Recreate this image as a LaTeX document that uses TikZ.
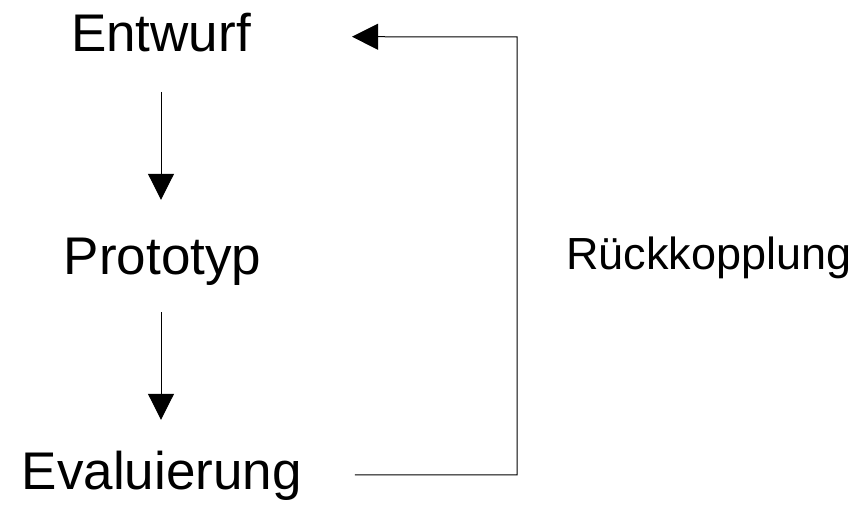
\documentclass[tikz,border=0pt]{standalone}
\usepackage{fontspec}
\setmainfont{Liberation Sans}
\usetikzlibrary{arrows.meta}

\begin{document}
\begin{tikzpicture}[x=1pt,y=1pt,
        schritt/.style={inner sep=0pt, text height=38pt, text depth=0pt, font=\fontsize{53}{60}\selectfont},
        pfeil/.style={line width=1pt, -{Triangle[length=26pt,width=26pt]}}]
        \useasboundingbox (0,0) rectangle (868,505);

        \node[schritt, anchor=base] (entwurf) at (161,453.3) {Entwurf};
        \node[schritt, anchor=base] (prototyp) at (162.5,230) {Prototyp};
        \node[schritt, anchor=base] (evaluierung) at (161.7,15) {Evaluierung};
        \node[inner sep=0pt, anchor=base west, font=\fontsize{45}{52}\selectfont] (rueckkopplung) at (566,235) {Rückkopplung};
        \coordinate (knick) at (517,468);

        \draw[pfeil, shorten <=40pt, shorten >=37pt] (entwurf.south) -- (entwurf.south |- prototyp.north);
        \draw[pfeil, shorten <=37pt, shorten >=32pt] (prototyp.south -| entwurf.south) -- (entwurf.south |- evaluierung.north);
        \draw[pfeil] ([xshift=53pt,yshift=15pt]evaluierung.base east) -| (knick) -- ([xshift=101pt,yshift=15pt]entwurf.base east);
    \end{tikzpicture}
\end{document}
